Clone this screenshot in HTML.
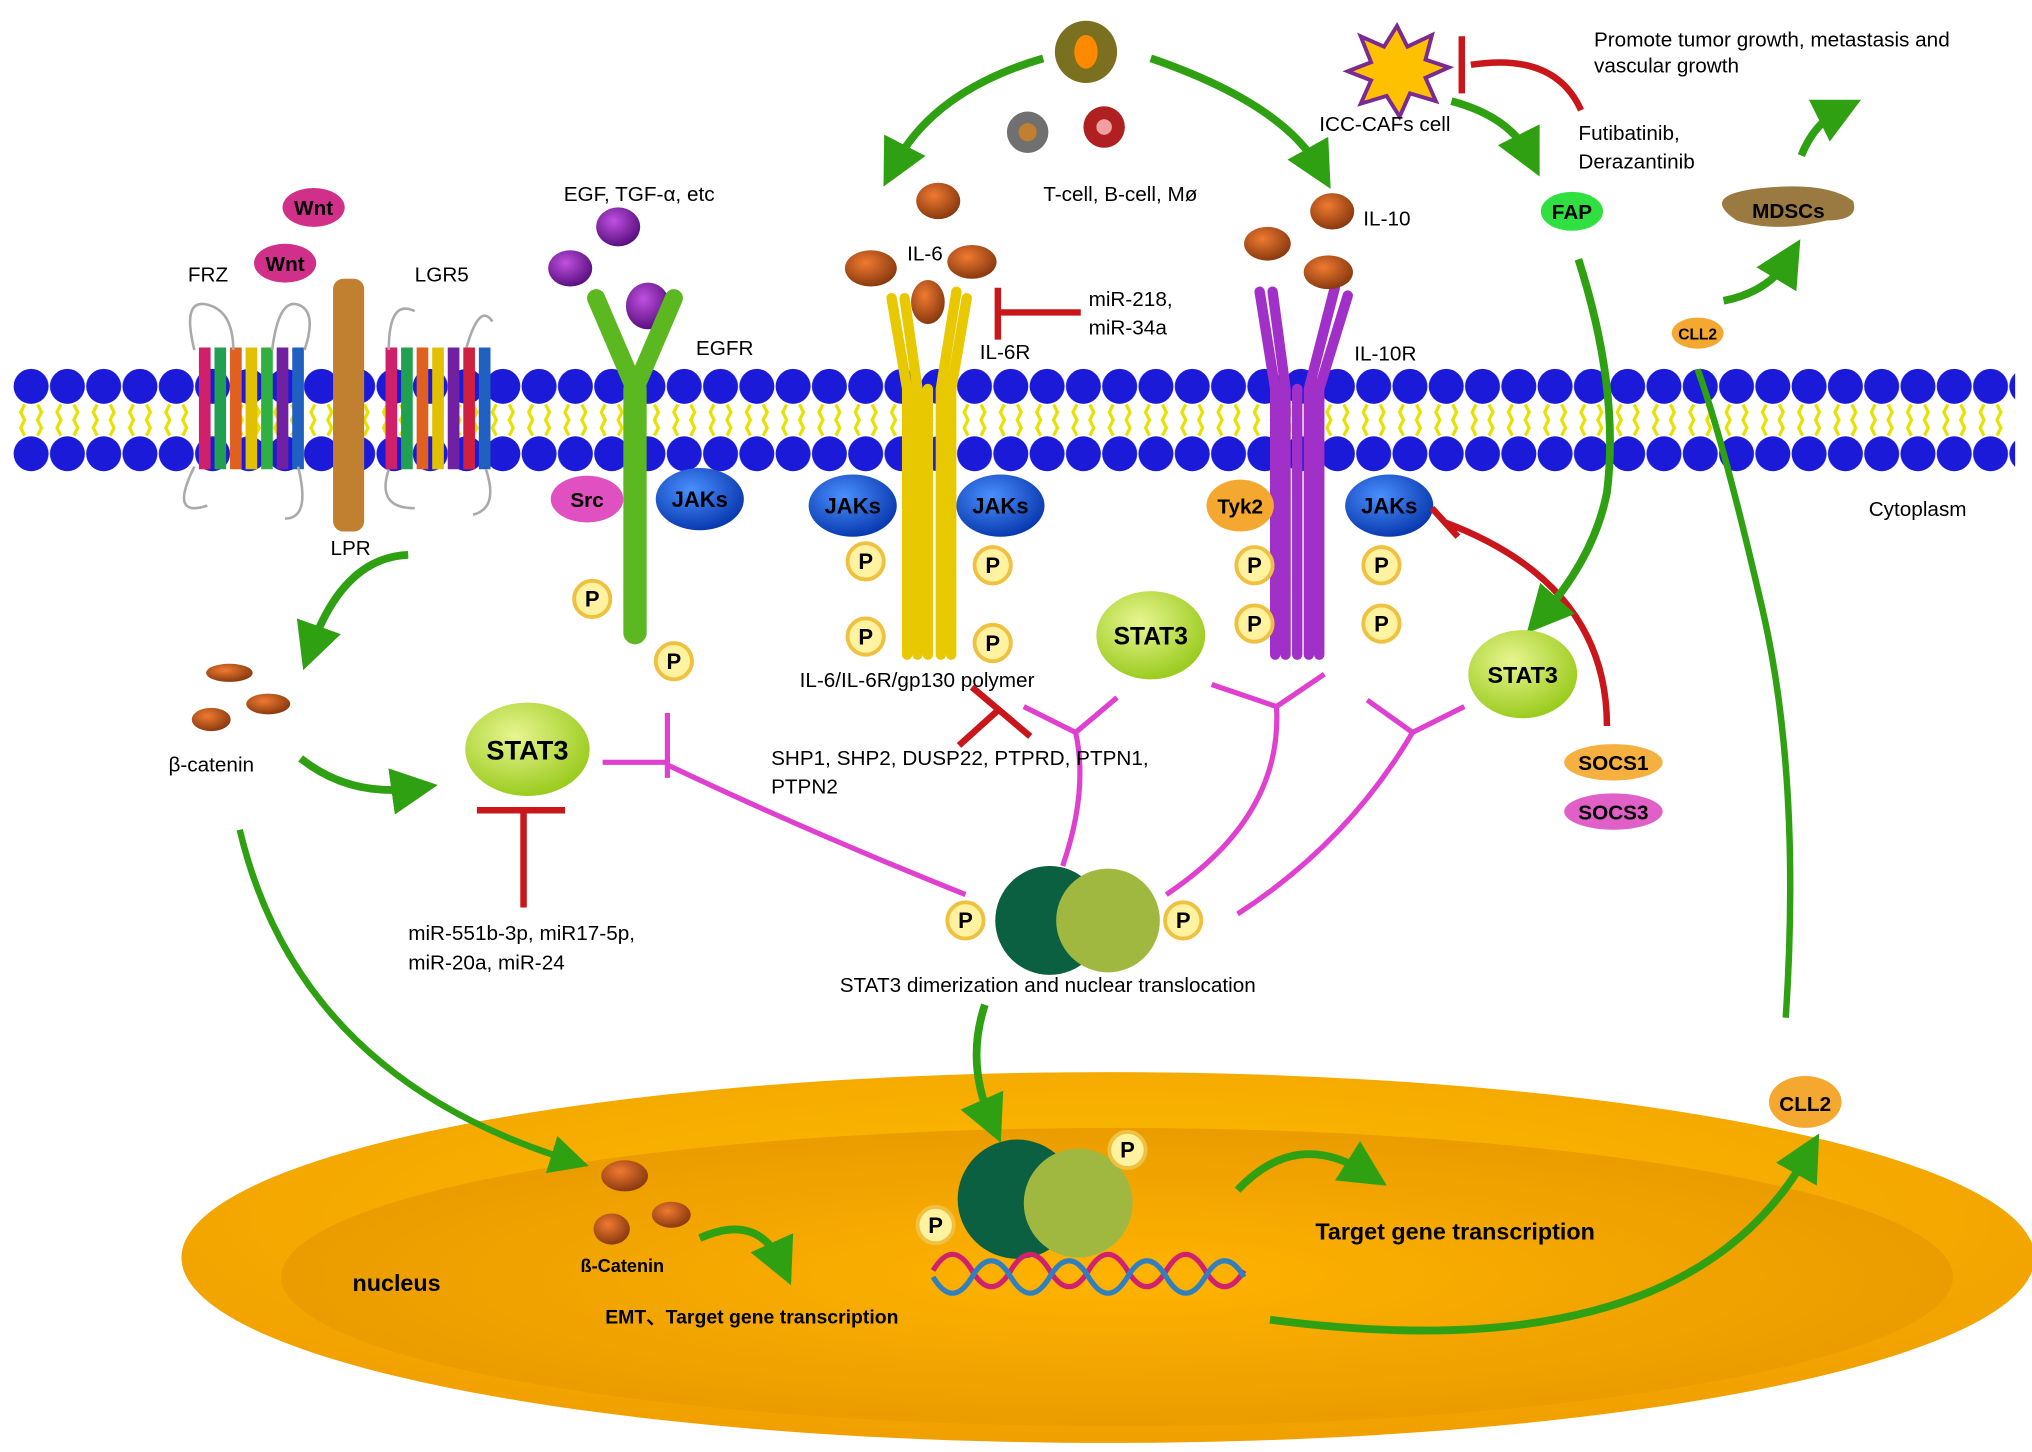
<!DOCTYPE html>
<html><head><meta charset="utf-8"><style>
html,body{margin:0;padding:0;background:#fff;}
svg{display:block;}
text{font-family:"Liberation Sans",sans-serif;}
</style></head><body>
<svg width="2032" height="1452" viewBox="0 0 1568 1120" preserveAspectRatio="none" xmlns="http://www.w3.org/2000/svg">
<defs>
<pattern id="mem" x="10" y="0" width="28" height="1120" patternUnits="userSpaceOnUse">
<path d="M9 312 l-3 6 l3 6 l-3 6 l3 6 M19 312 l3 6 l-3 6 l3 6 l-3 6" stroke="#e8e000" stroke-width="2.5" fill="none"/>
<circle cx="14" cy="298" r="13.5" fill="#1a1ad8"/>
<circle cx="14" cy="350" r="13.5" fill="#1a1ad8"/>
</pattern>
<radialGradient id="nucO" cx="50%" cy="40%" r="60%"><stop offset="0" stop-color="#ffc000"/><stop offset="1" stop-color="#f0a000"/></radialGradient>
<radialGradient id="nucI" cx="50%" cy="50%" r="55%"><stop offset="0" stop-color="#ffb300"/><stop offset="1" stop-color="#e89a00"/></radialGradient>
<radialGradient id="stat" cx="40%" cy="35%" r="65%"><stop offset="0" stop-color="#e8f590"/><stop offset="1" stop-color="#9ccc20"/></radialGradient>
<radialGradient id="jak" cx="40%" cy="35%" r="65%"><stop offset="0" stop-color="#4a90ff"/><stop offset="1" stop-color="#0a3ab0"/></radialGradient>
<radialGradient id="bean" cx="40%" cy="35%" r="65%"><stop offset="0" stop-color="#f07a30"/><stop offset="1" stop-color="#8a3a10"/></radialGradient>
<radialGradient id="pur" cx="40%" cy="35%" r="65%"><stop offset="0" stop-color="#c050e0"/><stop offset="1" stop-color="#5a1080"/></radialGradient>
<marker id="ga" markerWidth="6" markerHeight="6" refX="3" refY="3" orient="auto" markerUnits="strokeWidth"><path d="M0,0 L6,3 L0,6 z" fill="#2ea012"/></marker>
<g id="P"><circle r="14" fill="#fff2a0" stroke="#f0c040" stroke-width="3"/><text y="6" text-anchor="middle" font-size="17" font-weight="bold">P</text></g>
</defs>
<rect width="1568" height="1120" fill="#fff"/>

<!-- nucleus -->
<ellipse cx="855" cy="970" rx="715" ry="143" fill="url(#nucO)"/>
<ellipse cx="862" cy="985" rx="645" ry="115" fill="url(#nucI)"/>

<!-- membrane -->
<rect x="10" y="280" width="1545" height="90" fill="url(#mem)"/>

<!-- FRZ / LGR5 -->
<g stroke-width="9">
<line x1="158" y1="268" x2="158" y2="362" stroke="#d0206a"/><line x1="170" y1="268" x2="170" y2="362" stroke="#20a050"/>
<line x1="182" y1="268" x2="182" y2="362" stroke="#e06020"/><line x1="194" y1="268" x2="194" y2="362" stroke="#e0c000"/>
<line x1="206" y1="268" x2="206" y2="362" stroke="#30b040"/><line x1="218" y1="268" x2="218" y2="362" stroke="#7020a0"/>
<line x1="230" y1="268" x2="230" y2="362" stroke="#2060c0"/>
<line x1="302" y1="268" x2="302" y2="362" stroke="#d0206a"/><line x1="314" y1="268" x2="314" y2="362" stroke="#20a050"/>
<line x1="326" y1="268" x2="326" y2="362" stroke="#e06020"/><line x1="338" y1="268" x2="338" y2="362" stroke="#e0c000"/>
<line x1="350" y1="268" x2="350" y2="362" stroke="#7020a0"/><line x1="362" y1="268" x2="362" y2="362" stroke="#d02040"/>
<line x1="374" y1="268" x2="374" y2="362" stroke="#2060c0"/>
</g>
<path d="M150 270 q-10 -40 10 -35 q20 5 20 35 M210 270 q5 -40 20 -35 q15 5 5 35 M300 270 q0 -40 20 -30 M360 268 q10 -35 20 -20 M150 360 q-20 40 10 30 M230 360 q10 40 -10 40 M300 362 q-10 30 20 30 M375 362 q10 30 -10 35" stroke="#aaa" stroke-width="2" fill="none"/>
<rect x="257" y="215" width="24" height="195" rx="8" fill="#c08030"/>
<ellipse cx="242" cy="160" rx="24" ry="15" fill="#d0308a"/><text x="242" y="166" text-anchor="middle" font-size="16" font-weight="bold">Wnt</text>
<ellipse cx="220" cy="203" rx="24" ry="15" fill="#d0308a"/><text x="220" y="209" text-anchor="middle" font-size="16" font-weight="bold">Wnt</text>
<text x="145" y="217" font-size="16">FRZ</text><text x="320" y="217" font-size="16">LGR5</text>
<text x="255" y="428" font-size="16">LPR</text>

<!-- EGFR -->
<ellipse cx="477" cy="175" rx="17" ry="15" fill="url(#pur)"/>
<ellipse cx="440" cy="207" rx="17" ry="14" fill="url(#pur)"/>
<ellipse cx="500" cy="236" rx="17" ry="18" fill="url(#pur)"/>
<path d="M460 230 L490 300 L520 230" stroke="#5cb820" stroke-width="14" fill="none" stroke-linecap="round"/>
<line x1="490" y1="300" x2="490" y2="488" stroke="#5cb820" stroke-width="18" stroke-linecap="round"/>
<text x="435" y="155" font-size="16">EGF, TGF-α, etc</text>
<text x="537" y="274" font-size="16">EGFR</text>
<ellipse cx="453" cy="385" rx="28" ry="18" fill="#e050c0"/><text x="453" y="391" text-anchor="middle" font-size="16" font-weight="bold">Src</text>
<ellipse cx="540" cy="385" rx="34" ry="24" fill="url(#jak)"/><text x="540" y="391" text-anchor="middle" font-size="17" font-weight="bold">JAKs</text>
<use href="#P" x="457" y="462"/><use href="#P" x="520" y="510"/>

<!-- IL-6R -->
<g stroke="#e8c800" stroke-width="8" fill="none" stroke-linecap="round">
<path d="M688 230 L700 300 L700 505 M698 230 L708 300 L708 505 M738 225 L726 300 L726 505 M746 230 L734 300 L734 505 M716 300 L716 505"/>
</g>
<ellipse cx="724" cy="155" rx="17" ry="14" fill="url(#bean)"/>
<ellipse cx="672" cy="207" rx="20" ry="14" fill="url(#bean)"/>
<ellipse cx="750" cy="202" rx="19" ry="13" fill="url(#bean)"/>
<ellipse cx="716" cy="233" rx="13" ry="17" fill="url(#bean)"/>
<text x="700" y="201" font-size="16">IL-6</text>
<text x="756" y="277" font-size="16">IL-6R</text>
<ellipse cx="658" cy="390" rx="34" ry="24" fill="url(#jak)"/><text x="658" y="396" text-anchor="middle" font-size="17" font-weight="bold">JAKs</text>
<ellipse cx="772" cy="390" rx="34" ry="24" fill="url(#jak)"/><text x="772" y="396" text-anchor="middle" font-size="17" font-weight="bold">JAKs</text>
<use href="#P" x="668" y="433"/><use href="#P" x="766" y="436"/><use href="#P" x="668" y="491"/><use href="#P" x="766" y="496"/>
<text x="617" y="530" font-size="16">IL-6/IL-6R/gp130 polymer</text>
<path d="M834 241 L770 241 M770 222 L770 262" stroke="#c8161a" stroke-width="5" fill="none"/>
<text x="840" y="236" font-size="16">miR-218,</text><text x="840" y="258" font-size="16">miR-34a</text>

<!-- IL-10R -->
<g stroke="#a030c8" stroke-width="8" fill="none" stroke-linecap="round">
<path d="M972 225 L984 300 L984 505 M982 225 L992 300 L992 505 M1030 222 L1010 300 L1010 505 M1040 228 L1018 300 L1018 505 M1001 300 L1001 505"/>
</g>
<ellipse cx="1028" cy="163" rx="17" ry="14" fill="url(#bean)"/>
<ellipse cx="978" cy="188" rx="18" ry="13" fill="url(#bean)"/>
<ellipse cx="1025" cy="210" rx="19" ry="13" fill="url(#bean)"/>
<text x="1052" y="174" font-size="16">IL-10</text>
<text x="1045" y="278" font-size="16">IL-10R</text>
<ellipse cx="957" cy="390" rx="26" ry="20" fill="#f5a830"/><text x="957" y="396" text-anchor="middle" font-size="16" font-weight="bold">Tyk2</text>
<ellipse cx="1072" cy="390" rx="34" ry="24" fill="url(#jak)"/><text x="1072" y="396" text-anchor="middle" font-size="17" font-weight="bold">JAKs</text>
<use href="#P" x="968" y="436"/><use href="#P" x="1066" y="436"/><use href="#P" x="968" y="481"/><use href="#P" x="1066" y="481"/>
<path d="M1240 560 Q1240 450 1115 403 M1105 392 L1125 414" stroke="#c8161a" stroke-width="5" fill="none"/>

<!-- immune cells top -->
<circle cx="838" cy="40" r="24" fill="#7a7020"/><ellipse cx="838" cy="40" rx="9" ry="13" fill="#ff8a00"/>
<circle cx="793" cy="102" r="16" fill="#707070"/><circle cx="793" cy="102" r="7" fill="#c08030"/>
<circle cx="852" cy="98" r="16" fill="#b02020"/><circle cx="852" cy="98" r="6" fill="#f0a0a0"/>
<text x="805" y="155" font-size="16">T-cell, B-cell, Mø</text>
<path d="M805 45 Q720 70 690 128" stroke="#2ea012" stroke-width="6" fill="none" marker-end="url(#ga)"/>
<path d="M888 45 Q990 80 1018 130" stroke="#2ea012" stroke-width="6" fill="none" marker-end="url(#ga)"/>

<!-- CAF -->
<polygon points="1078,20 1086,36 1105,27 1100,46 1118,52 1100,60 1108,78 1088,72 1080,90 1070,74 1050,80 1058,62 1040,55 1058,48 1050,28 1068,36" fill="#ffc000" stroke="#7a2a90" stroke-width="3"/>
<text x="1018" y="101" font-size="16">ICC-CAFs cell</text>
<path d="M1230 85 Q1210 40 1145 50 M1138 28 L1138 72" stroke="#c8161a" stroke-width="5" fill="none" transform="translate(-10,0)"/>
<text x="1218" y="108" font-size="16">Futibatinib,</text><text x="1218" y="130" font-size="16">Derazantinib</text>
<path d="M1120 78 Q1165 90 1180 120" stroke="#2ea012" stroke-width="6" fill="none" marker-end="url(#ga)"/>
<ellipse cx="1213" cy="163" rx="24" ry="15" fill="#30e040"/><text x="1213" y="169" text-anchor="middle" font-size="16" font-weight="bold">FAP</text>
<path d="M1218 200 Q1250 300 1240 380 Q1230 430 1190 475" stroke="#2ea012" stroke-width="6" fill="none" marker-end="url(#ga)"/>
<text x="1230" y="36" font-size="16">Promote tumor growth, metastasis and</text>
<text x="1230" y="56" font-size="16">vascular growth</text>
<path d="M1340 170 q-30 -20 20 -25 q50 -5 70 10 q5 15 -20 15 q-40 10 -70 0z" fill="#9a7a40"/>
<text x="1380" y="168" text-anchor="middle" font-size="16" font-weight="bold">MDSCs</text>
<path d="M1390 120 Q1400 95 1420 85" stroke="#2ea012" stroke-width="6" fill="none" marker-end="url(#ga)"/>
<path d="M1330 232 Q1365 225 1380 200" stroke="#2ea012" stroke-width="6" fill="none" marker-end="url(#ga)"/>
<ellipse cx="1310" cy="257" rx="20" ry="12" fill="#f5a830"/><text x="1310" y="262" text-anchor="middle" font-size="12" font-weight="bold">CLL2</text>
<path d="M1378 785 Q1390 600 1360 470 Q1330 340 1310 285" stroke="#2ea012" stroke-width="5" fill="none"/>
<text x="1442" y="398" font-size="16">Cytoplasm</text>

<!-- STAT3s -->
<ellipse cx="888" cy="490" rx="42" ry="34" fill="url(#stat)"/><text x="888" y="497" text-anchor="middle" font-size="19" font-weight="bold">STAT3</text>
<ellipse cx="1175" cy="520" rx="42" ry="34" fill="url(#stat)"/><text x="1175" y="527" text-anchor="middle" font-size="18" font-weight="bold">STAT3</text>
<ellipse cx="407" cy="578" rx="48" ry="36" fill="url(#stat)"/><text x="407" y="586" text-anchor="middle" font-size="21" font-weight="bold">STAT3</text>
<ellipse cx="1245" cy="588" rx="38" ry="14" fill="#f5b040"/><text x="1245" y="594" text-anchor="middle" font-size="16" font-weight="bold">SOCS1</text>
<ellipse cx="1245" cy="626" rx="38" ry="14" fill="#e060c8"/><text x="1245" y="632" text-anchor="middle" font-size="16" font-weight="bold">SOCS3</text>

<!-- magenta lines -->
<g stroke="#e040d0" stroke-width="4" fill="none">
<path d="M465 588 L515 588 M515 550 L515 600 M515 590 Q620 640 745 690"/>
<path d="M790 545 L830 565 M862 538 L830 565 M830 565 Q840 610 820 668"/>
<path d="M935 528 L985 545 M1022 520 L985 545 M985 545 Q990 630 900 690"/>
<path d="M1055 540 L1090 565 M1130 545 L1090 565 M1090 565 Q1040 650 955 705"/>
</g>
<path d="M740 575 L770 548 M750 530 L795 568" stroke="#c8161a" stroke-width="5" fill="none"/>
<text x="595" y="590" font-size="16">SHP1, SHP2, DUSP22, PTPRD, PTPN1,</text>
<text x="595" y="612" font-size="16">PTPN2</text>

<!-- dimer -->
<circle cx="810" cy="710" r="42" fill="#0a6040"/>
<circle cx="855" cy="710" r="40" fill="#a0b840"/>
<use href="#P" x="745" y="710"/><use href="#P" x="913" y="710"/>
<text x="648" y="765" font-size="16">STAT3 dimerization and nuclear translocation</text>
<path d="M760 775 Q745 820 765 865" stroke="#2ea012" stroke-width="6" fill="none" marker-end="url(#ga)"/>

<!-- beta catenin -->
<ellipse cx="177" cy="519" rx="18" ry="7" fill="url(#bean)"/>
<ellipse cx="163" cy="555" rx="15" ry="9" fill="url(#bean)"/>
<ellipse cx="207" cy="543" rx="17" ry="8" fill="url(#bean)"/>
<text x="130" y="595" font-size="16">β-catenin</text>
<path d="M315 428 Q265 430 240 500" stroke="#2ea012" stroke-width="6" fill="none" marker-end="url(#ga)"/>
<path d="M232 585 Q270 615 320 608" stroke="#2ea012" stroke-width="6" fill="none" marker-end="url(#ga)"/>
<path d="M185 640 Q230 830 440 895" stroke="#2ea012" stroke-width="5" fill="none" marker-end="url(#ga)"/>
<path d="M404 700 L404 625 M368 625 L436 625" stroke="#c8161a" stroke-width="5" fill="none"/>
<text x="315" y="725" font-size="16">miR-551b-3p, miR17-5p,</text>
<text x="315" y="748" font-size="16">miR-20a, miR-24</text>

<!-- nucleus content -->
<ellipse cx="482" cy="907" rx="18" ry="12" fill="url(#bean)"/>
<ellipse cx="472" cy="948" rx="14" ry="12" fill="url(#bean)"/>
<ellipse cx="518" cy="937" rx="15" ry="10" fill="url(#bean)"/>
<text x="448" y="981" font-size="14" font-weight="bold">ß-Catenin</text>
<path d="M540 955 Q585 935 603 975" stroke="#2ea012" stroke-width="6" fill="none" marker-end="url(#ga)"/>
<text x="272" y="996" font-size="18" font-weight="bold">nucleus</text>
<text x="467" y="1021" font-size="15" font-weight="bold">EMT、Target gene transcription</text>
<circle cx="785" cy="925" r="46" fill="#0a6040"/>
<circle cx="832" cy="928" r="42" fill="#a0b840"/>
<use href="#P" x="722" y="945"/><use href="#P" x="870" y="887"/>
<g stroke-width="4" fill="none">
<path d="M720 985 q15 -25 30 0 t30 0 t30 0 t30 0 t30 0 t30 0 t30 0 t30 0" stroke="#d02070" transform="translate(0,-5)"/>
<path d="M720 985 q15 25 30 0 t30 0 t30 0 t30 0 t30 0 t30 0 t30 0 t30 0" stroke="#3080c0"/>
</g>
<path d="M955 918 Q1000 870 1055 905" stroke="#2ea012" stroke-width="6" fill="none" marker-end="url(#ga)"/>
<text x="1015" y="956" font-size="18" font-weight="bold">Target gene transcription</text>
<path d="M980 1018 Q1300 1060 1395 890" stroke="#2ea012" stroke-width="6" fill="none" marker-end="url(#ga)"/>
<ellipse cx="1393" cy="850" rx="28" ry="20" fill="#f5a830"/><text x="1393" y="857" text-anchor="middle" font-size="16" font-weight="bold">CLL2</text>
</svg>
</body></html>
